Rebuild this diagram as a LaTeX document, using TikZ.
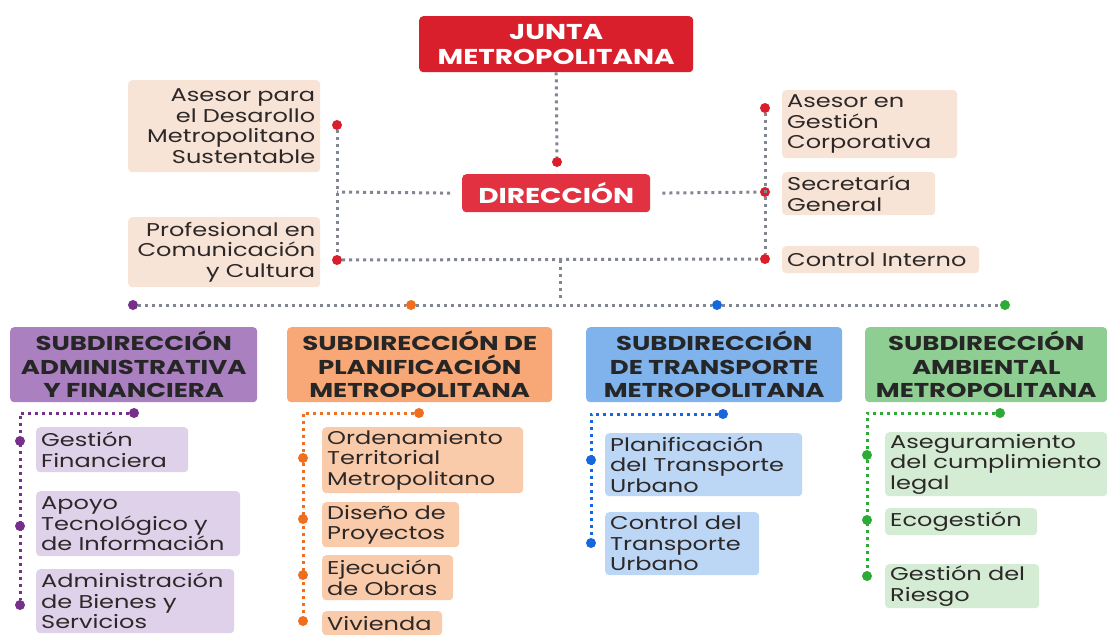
\documentclass[tikz,border=0pt]{standalone}
\usepackage{fontspec}
\setmainfont{Poppins}[FakeStretch=1.3]
\usetikzlibrary{positioning}
\definecolor{juntared}{RGB}{217,31,43}
\definecolor{dirred}{RGB}{226,50,66}
\definecolor{peach}{RGB}{248,227,215}
\definecolor{linegray}{RGB}{128,134,146}
\definecolor{txt}{RGB}{45,40,40}
\definecolor{purplehead}{RGB}{170,128,192}
\definecolor{purpleunit}{RGB}{224,209,234}
\definecolor{purpledot}{RGB}{118,48,140}
\definecolor{orangehead}{RGB}{247,168,118}
\definecolor{orangeunit}{RGB}{250,203,170}
\definecolor{orangedot}{RGB}{240,110,30}
\definecolor{bluehead}{RGB}{128,178,236}
\definecolor{blueunit}{RGB}{188,214,246}
\definecolor{bluedot}{RGB}{22,102,222}
\definecolor{greenhead}{RGB}{142,206,146}
\definecolor{greenunit}{RGB}{212,236,212}
\definecolor{greendot}{RGB}{44,172,54}
\newcommand{\bodyfont}{\fontsize{18.5}{20.5}\selectfont\hyphenpenalty=10000}
\newcommand{\headfont}{\bfseries\fontsize{20}{23.5}\selectfont}
\newcommand{\topfont}{\bfseries\fontsize{21.5}{25}\selectfont}
\tikzset{
    common/.style={anchor=north west, rounded corners=4pt, inner xsep=5pt, inner ysep=0pt, text=txt},
    top/.style={common, fill=#1, text=white, align=center, font=\topfont},
    advisor/.style={common, fill=peach, font=\bodyfont},
    subhead/.style={common, fill=#1, align=center, font=\headfont, text=black!85},
    unit/.style={common, fill=#1, align=left, font=\bodyfont},
    joint/.style={circle, fill=#1, inner sep=0pt, minimum size=10pt},
    link/.style={draw=#1, line width=3pt, dash pattern=on 3pt off 4pt},
}

\begin{document}
\begin{tikzpicture}[x=1pt, y=-1pt]
    \useasboundingbox[fill=white] (0,0) rectangle (1107,638);

    % direction
    \node[top=juntared, minimum width=274pt, minimum height=56pt] (junta) at (419,16) {JUNTA\\METROPOLITANA};
    \node[top=dirred, minimum width=188pt, minimum height=38pt] (dir) at (462,174) {DIRECCIÓN};
    \node[joint=juntared] (dJ) at (557,162) {};

    % advisors
    \node[advisor, minimum height=92pt, text width=182pt, align=right] (advA) at (128,80) {Asesor para\\el Desarollo\\Metropolitano\\Sustentable};
    \node[advisor, minimum height=70pt, text width=182pt, align=right] (advP) at (128,217) {Profesional en\\Comunicación\\y Cultura};
    \node[advisor, minimum height=68pt, text width=165pt, align=left] (advG) at (782,90) {Asesor en\\Gestión\\Corporativa};
    \node[advisor, minimum height=43pt, text width=143pt, align=left] (advS) at (782,172) {Secretaría\\General};
    \node[advisor, minimum height=27pt, text width=187pt, align=left] (advC) at (782,246) {Control Interno};

    \node[joint=juntared] (dA) at (337,125) {};
    \node[joint=juntared] (dP) at (337,260) {};
    \node[joint=juntared] (dG) at (765,108) {};
    \node[joint=juntared] (dS) at (765,192) {};
    \node[joint=juntared] (dC) at (765,259) {};
    \coordinate (lL) at (337,192);
    \coordinate (t1) at (560,260);
    \coordinate (t2) at (560,300);

    \draw[link=linegray] (junta.south) -- (dJ);
    \draw[link=linegray] (dA) -- (dP);
    \draw[link=linegray] (dG) -- (dC);
    \draw[link=linegray, shorten <=12pt] (dir.west) -- (lL);
    \draw[link=linegray, shorten <=12pt] (dir.east) -- (dS);
    \draw[link=linegray] (dP) -- (dC);
    \draw[link=linegray] (t1) -- (t2);

    % subdirections
    \node[joint=purpledot] (d1) at (133,305) {};
    \node[joint=orangedot] (d2) at (411,305) {};
    \node[joint=bluedot] (d3) at (717,305) {};
    \node[joint=greendot] (d4) at (1005,305) {};
    \draw[link=linegray] (d1) -- (d2) -- (d3) -- (d4);

    \node[subhead=purplehead, minimum width=247pt, minimum height=75pt] (s1) at (10,327) {SUBDIRECCIÓN\\ADMINISTRATIVA\\Y FINANCIERA};
    \node[subhead=orangehead, minimum width=265pt, minimum height=75pt] (s2) at (287,327) {SUBDIRECCIÓN DE\\PLANIFICACIÓN\\METROPOLITANA};
    \node[subhead=bluehead, minimum width=256pt, minimum height=75pt] (s3) at (586,327) {SUBDIRECCIÓN\\DE TRANSPORTE\\METROPOLITANA};
    \node[subhead=greenhead, minimum width=242pt, minimum height=75pt] (s4) at (865,327) {SUBDIRECCIÓN\\AMBIENTAL\\METROPOLITANA};

    % administrative and financial
    \node[unit=purpleunit, minimum height=45pt, text width=142pt] (p1) at (36,427) {Gestión\\Financiera};
    \node[unit=purpleunit, minimum height=65pt, text width=194pt] (p2) at (36,491) {Apoyo\\Tecnológico y\\de Información};
    \node[unit=purpleunit, minimum height=64pt, text width=188pt] (p3) at (36,569) {Administración\\de Bienes y\\Servicios};
    \node[joint=purpledot] (p0) at (134,413) {};
    \coordinate (pc) at (20,413);
    \node[joint=purpledot] (pd1) at (20,441) {};
    \node[joint=purpledot] (pd2) at (20,526) {};
    \node[joint=purpledot] (pd3) at (20,605) {};
    \draw[link=purpledot] (p0) -- (pc) -- (pd3);

    % planning
    \node[unit=orangeunit, minimum height=66pt, text width=191pt] (o1) at (322,427) {Ordenamiento\\Territorial\\Metropolitano};
    \node[unit=orangeunit, minimum height=45pt, text width=127pt] (o2) at (322,502) {Diseño de\\Proyectos};
    \node[unit=orangeunit, minimum height=45pt, text width=121pt] (o3) at (322,555) {Ejecución\\de Obras};
    \node[unit=orangeunit, minimum height=24pt, text width=110pt] (o4) at (322,611) {Vivienda};
    \node[joint=orangedot] (o0) at (419,413) {};
    \coordinate (oc) at (303,413);
    \node[joint=orangedot] (od1) at (303,458) {};
    \node[joint=orangedot] (od2) at (303,519) {};
    \node[joint=orangedot] (od3) at (303,575) {};
    \node[joint=orangedot] (od4) at (303,621) {};
    \draw[link=orangedot] (o0) -- (oc) -- (od4);

    % transport
    \node[unit=blueunit, minimum height=63pt, text width=187pt] (b1) at (605,433) {Planificación\\del Transporte\\Urbano};
    \node[unit=blueunit, minimum height=63pt, text width=144pt] (b2) at (605,512) {Control del\\Transporte\\Urbano};
    \node[joint=bluedot] (b0) at (723,414) {};
    \coordinate (bc) at (591,414);
    \node[joint=bluedot] (bd1) at (591,460) {};
    \node[joint=bluedot] (bd2) at (591,543) {};
    \draw[link=bluedot] (b0) -- (bc) -- (bd2);

    % environment
    \node[unit=greenunit, minimum height=64pt, text width=212pt] (g1) at (885,432) {Aseguramiento\\del cumplimiento\\legal};
    \node[unit=greenunit, minimum height=27pt, text width=142pt] (g2) at (885,508) {Ecogestión};
    \node[unit=greenunit, minimum height=44pt, text width=144pt] (g3) at (885,564) {Gestión del\\Riesgo};
    \node[joint=greendot] (g0) at (1000,413) {};
    \coordinate (gc) at (867,413);
    \node[joint=greendot] (gd1) at (867,455) {};
    \node[joint=greendot] (gd2) at (867,520) {};
    \node[joint=greendot] (gd3) at (867,576) {};
    \draw[link=greendot] (g0) -- (gc) -- (gd3);
\end{tikzpicture}
\end{document}
